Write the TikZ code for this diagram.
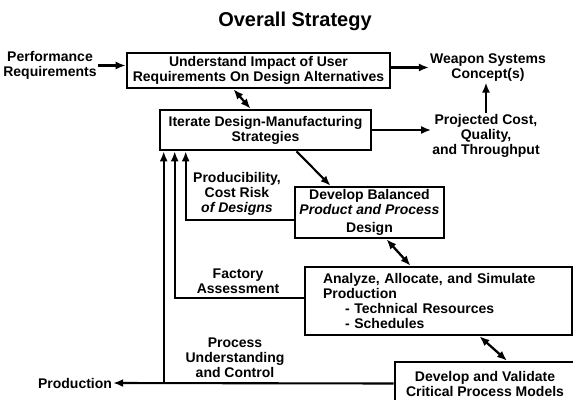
\documentclass[tikz,border=0pt]{standalone}
\usepackage{fontspec}
\setmainfont{Liberation Sans}
\usepackage{xcolor}
\usepackage{tikz}
\usetikzlibrary{arrows.meta,positioning,calc}
\definecolor{strategyInk}{HTML}{000000}
\definecolor{strategyPaper}{HTML}{FFFFFF}
\tikzset{
  stage/.style={
    rectangle,
    draw=strategyInk,
    fill=strategyPaper,
    line width=2.6pt,
    align=center,
    inner sep=2pt,
    font=\bfseries\fontsize{14}{15}\selectfont
  },
  stageList/.style={
    stage,
    align=left,
    inner xsep=18pt,
    text width=231pt
  },
  note/.style={
    align=center,
    inner sep=1pt,
    text=strategyInk,
    font=\bfseries\fontsize{14}{15}\selectfont
  },
  heading/.style={
    inner sep=0pt,
    font=\bfseries\fontsize{20}{22}\selectfont
  },
  flow/.style={
    -{Latex[length=10pt,width=8pt]},
    line width=2.1pt,
    draw=strategyInk
  },
  twoWay/.style={
    {Latex[length=10pt,width=8pt]}-{Latex[length=10pt,width=8pt]},
    line width=2.3pt,
    draw=strategyInk
  }
}

\begin{document}
\begin{tikzpicture}[x=1pt,y=-1pt]
  \fill[strategyPaper] (0,0) rectangle (573,399);
  \useasboundingbox (0,0) rectangle (573,399);
  \clip (0,0) rectangle (573,399);
  \node[heading] (title) at (295,21) {Overall Strategy};
  \node[stage,minimum width=263pt,minimum height=35pt] (understand) at (258.5,70.5) {Understand Impact of User\\Requirements On Design Alternatives};
  \node[stage,minimum width=211pt,minimum height=40pt] (iterate) at (265.5,130) {Iterate Design-Manufacturing\\Strategies};
  \node[stage,minimum width=149pt,minimum height=51pt] (balanced) at (369.5,212.5) {Develop Balanced\\\textit{Product and Process}\\[3pt]Design};
  \node[stageList,minimum height=68pt] (analyze) at (438.5,301) {Analyze, Allocate, and Simulate\\Production\\\hspace*{22pt}- Technical Resources\\\hspace*{22pt}- Schedules};
  \node[stage,minimum width=180pt,minimum height=43pt] (validate) at (485,383.5) {Develop and Validate\\Critical Process Models};
  \node[note] (perf) at (50,65.5) {Performance\\Requirements};
  \node[note] (weapon) at (488,67.5) {Weapon Systems\\Concept(s)};
  \node[note] (projected) at (486,136) {Projected Cost,\\Quality,\\and Throughput};
  \node[note] (producibility) at (237,194) {Producibility,\\Cost Risk\\\textit{of Designs}};
  \node[note] (factory) at (238,281) {Factory\\Assessment};
  \node[note] (control) at (235,358) {Process\\Understanding\\and Control};
  \node[note] (production) at (75,383) {Production};
  \coordinate (tap) at ($(iterate.south west)+(5,0)$);
  \draw[flow] (perf.east) -- (perf.east -| understand.west);
  \draw[flow] (understand.east |- weapon.west) -- (weapon.west);
  \draw[flow] (iterate.east) -- (iterate.east -| projected.west);
  \draw[flow] (projected.north) -- (projected.north |- weapon.south);
  \draw[twoWay] ([xshift=-25pt]understand.south) -- ([xshift=-15pt]iterate.north);
  \draw[flow] ([xshift=31pt]iterate.south) -- ([xshift=-39pt]balanced.north);
  \draw[twoWay] ([xshift=17pt]balanced.south) -- ([xshift=-28pt]analyze.north);
  \draw[twoWay] ([xshift=41pt]analyze.south) -- ([xshift=22pt]validate.north);
  \draw[flow] ([yshift=-7.5pt]balanced.west) -| ([xshift=27pt]iterate.south west);
  \draw[flow] ([yshift=3pt]analyze.west) -| ([xshift=16pt]iterate.south west);
  \draw[flow] (validate.west) -- (production.east);
  \draw[flow] (tap |- validate.west) -- (tap);
\end{tikzpicture}
\end{document}
